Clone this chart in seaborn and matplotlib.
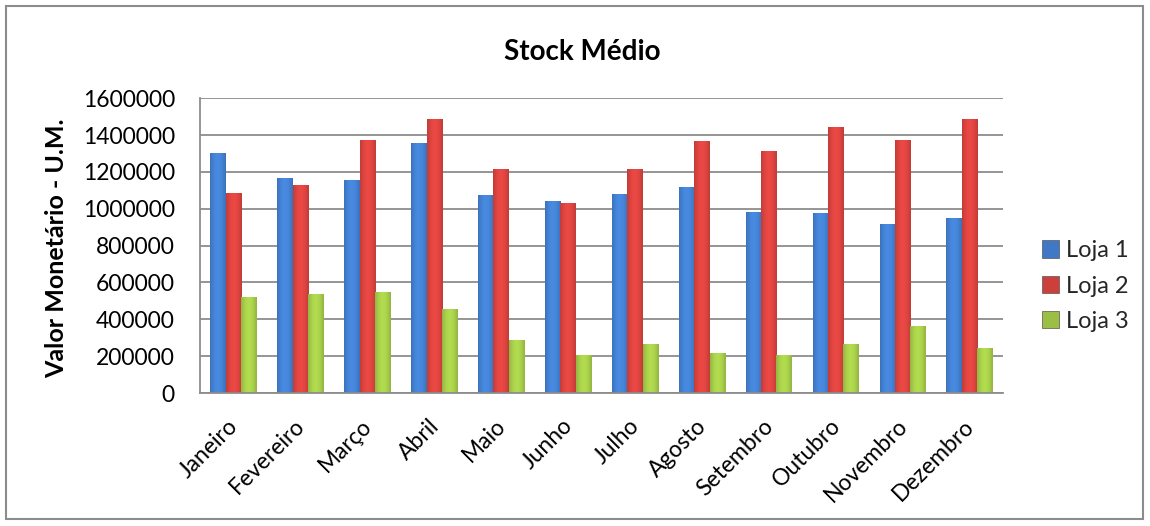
import numpy as np
import pandas as pd
import matplotlib
matplotlib.use("Agg")
import matplotlib.pyplot as plt
import matplotlib.patches as mpatches
import matplotlib.transforms as mtransforms
import seaborn as sns

meses = ["Janeiro", "Fevereiro", "Março", "Abril", "Maio", "Junho", "Julho",
         "Agosto", "Setembro", "Outubro", "Novembro", "Dezembro"]
loja1 = [1305000, 1167000, 1158000, 1359000, 1075000, 1044000, 1082000,
         1120000, 981000, 979000, 919000, 952000]
loja2 = [1084000, 1129000, 1373000, 1489000, 1218000, 1033000, 1218000,
         1370000, 1312000, 1444000, 1373000, 1489000]
loja3 = [519000, 536000, 548000, 454000, 286000, 204000, 264000,
         215000, 204000, 264000, 362000, 243000]
series = ["Loja 1", "Loja 2", "Loja 3"]
colors = ["#3F78C4", "#CC3F3B", "#9BBF45"]
yticks = [0, 200000, 400000, 600000, 800000, 1000000, 1200000, 1400000, 1600000]

df = pd.DataFrame({"Mês": meses * 3,
                   "Valor": loja1 + loja2 + loja3,
                   "Loja": [s for s in series for _ in meses]})

sns.set_theme(style="white")
plt.rcParams["font.family"] = ["Lato", "DejaVu Sans"]

fig = plt.figure(figsize=(11.5, 5.26), dpi=100)
ax = fig.add_axes([200/1150, 1 - 393/526, (1003-200)/1150, (393-98.3)/526])

sns.barplot(data=df, x="Mês", y="Valor", hue="Loja", order=meses,
            hue_order=series, palette=colors, width=0.69, ax=ax,
            edgecolor="none", linewidth=0, saturation=1, legend=True)

# cylinder-like shading on each bar
grad = np.linspace(0, 1, 64)
shade = 0.55 + 0.45 * np.sin(np.pi * (grad * 0.85 + 0.08))
for p in list(ax.patches):
    x0, y0 = p.get_x(), p.get_y()
    w, h = p.get_width(), p.get_height()
    if h <= 0:
        continue
    c = np.array(matplotlib.colors.to_rgb(p.get_facecolor()))
    img = np.clip(c[None, None, :] * (0.55 + 0.6 * shade)[None, :, None], 0, 1)
    im = ax.imshow(img, extent=[x0, x0 + w, y0, y0 + h], aspect="auto",
                   zorder=p.get_zorder() + 0.1, interpolation="bilinear")
    im.set_clip_path(p)

ax.set_xlim(-0.5, len(meses) - 0.5)
ax.set_ylim(0, 1600000)
ax.set_yticks(yticks)
ax.set_yticklabels([str(v) for v in yticks])
ax.grid(axis="y", color="#8C8C8C", linewidth=1.3)
ax.set_axisbelow(True)
for s in ["top", "right"]:
    ax.spines[s].set_visible(False)
for s in ["left", "bottom"]:
    ax.spines[s].set_color("#8C8C8C")
    ax.spines[s].set_linewidth(1.3)
ax.tick_params(axis="y", length=0, pad=18, labelsize=16.5, labelcolor="black")
ax.tick_params(axis="x", length=0, pad=16, labelsize=16.5, labelcolor="black")
shift = mtransforms.ScaledTranslation(-6/100, 0, fig.dpi_scale_trans)
for lab in ax.get_xticklabels():
    lab.set_rotation(45)
    lab.set_ha("right")
    lab.set_va("top")
    lab.set_rotation_mode("anchor")
    lab.set_transform(lab.get_transform() + shift)

ax.set_xlabel("")
ax.set_ylabel("")
fig.text(57/1150, 1 - 248/526, "Valor Monetário - U.M.", rotation=90,
         ha="center", va="center", fontsize=18, fontweight="bold", color="black")
fig.text(582/1150, 1 - 52/526, "Stock Médio", ha="center", va="center",
         fontsize=20, fontweight="bold", color="black")

handles = [mpatches.Patch(facecolor=c, edgecolor="#555555", linewidth=0.5)
           for c in colors]
ax.legend(handles, series, loc="center left", bbox_to_anchor=(1.048, 0.363),
          frameon=False, fontsize=17, handlelength=0.75, handleheight=0.75,
          handletextpad=0.3, labelspacing=0.6, borderpad=0, borderaxespad=0)

fig.patches.append(mpatches.Rectangle((6/1150, 7/526), 1137/1150, 513/526,
                                      transform=fig.transFigure, fill=False,
                                      edgecolor="#8C8C8C", linewidth=1.5))

fig.savefig("out.png", dpi=100, facecolor="white")
